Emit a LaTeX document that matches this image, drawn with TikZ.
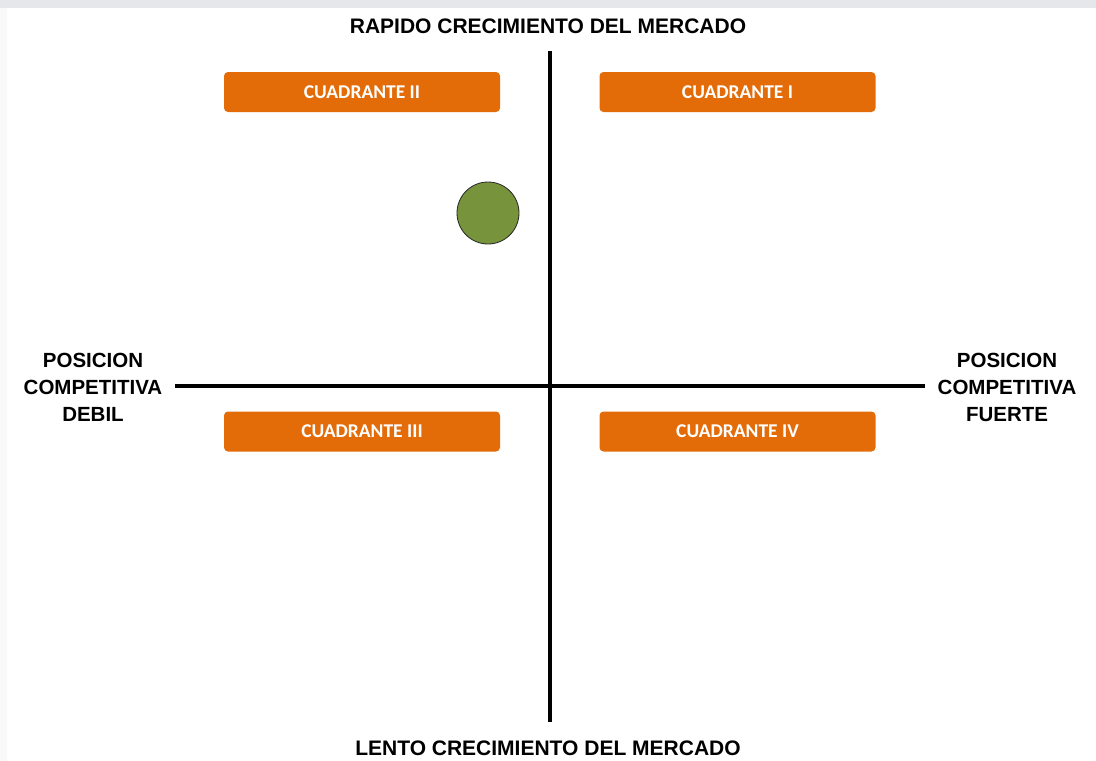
\documentclass[tikz,border=0pt]{standalone}
\usepackage{fontspec}
\setmainfont{Liberation Sans}
\newfontfamily\boxfont{Carlito}
\definecolor{boxorange}{HTML}{E36C09}
\definecolor{dotgreen}{HTML}{77933C}
\definecolor{bandgray}{HTML}{E6E7EA}
\begin{document}
\begin{tikzpicture}[x=1pt,y=-1pt,
  axisline/.style={line width=4.5pt},
  quadbox/.style={fill=boxorange, rounded corners=4pt, minimum width=276pt, minimum height=40pt, inner sep=0pt,
    text=white, font=\boxfont\bfseries\fontsize{19.5}{21}\selectfont},
  axislabel/.style={font=\bfseries\fontsize{21}{24}\selectfont},
  sidelabel/.style={font=\bfseries\fontsize{20.5}{27}\selectfont, align=center, inner sep=0pt}]
\useasboundingbox (0,0) rectangle (1096,761);
\fill[white] (0,0) rectangle (1096,761);
\fill[bandgray] (0,0) rectangle (1096,8);
\fill[bandgray!25] (0,8) rectangle (7,761);
% axes
\coordinate (top) at (550,51);
\coordinate (bottom) at (550,722);
\coordinate (left) at (175,386);
\coordinate (right) at (925,386);
\draw[axisline] (top) -- (bottom);
\draw[axisline] (left) -- (right);
% labels
\node[axislabel] (rapido) at (548,26) {RAPIDO CRECIMIENTO DEL MERCADO};
\node[axislabel] (lento) at (548,748) {LENTO CRECIMIENTO DEL MERCADO};
\node[sidelabel] (debil) at (93,387) {POSICION\\COMPETITIVA\\DEBIL};
\node[sidelabel] (fuerte) at (1007,387) {POSICION\\COMPETITIVA\\FUERTE};
% quadrant boxes
\node[quadbox] (q2) at (362,92) {CUADRANTE II};
\node[quadbox] (q1) at (737.5,92) {CUADRANTE I};
\node[quadbox] (q3) at (362,431.5) {CUADRANTE III};
\node[quadbox] (q4) at (737.5,431.5) {CUADRANTE IV};
% dot
\node[circle, fill=dotgreen, draw=black!85, line width=0.8pt, minimum size=62pt, inner sep=0pt] (dot) at (488,213) {};
\end{tikzpicture}
\end{document}
